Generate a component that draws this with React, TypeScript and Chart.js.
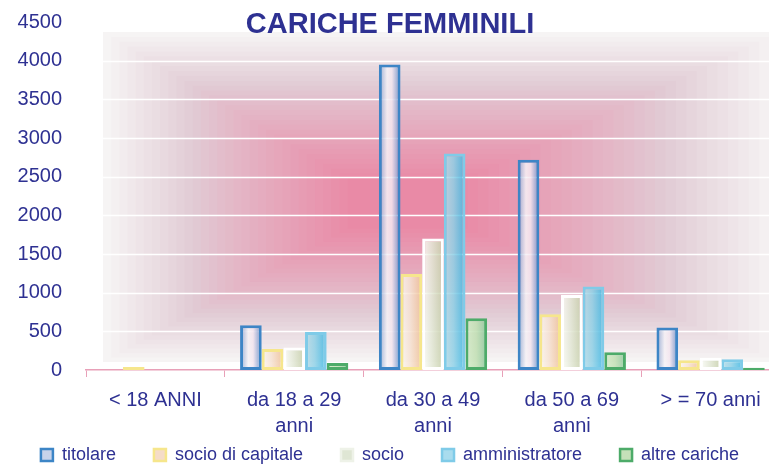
import React, { useEffect, useRef } from "react";
import { Chart, registerables } from "chart.js";

Chart.register(...registerables);

const categories: (string | string[])[] = [
  "< 18 ANNI",
  ["da 18 a 29", "anni"],
  ["da 30 a 49", "anni"],
  ["da 50 a 69", "anni"],
  "> = 70 anni",
];
const seriesNames = ["titolare", "socio di capitale", "socio", "amministratore", "altre cariche"];
const titolare = [0, 580, 3950, 2720, 550];
const socioDiCapitale = [40, 270, 1240, 720, 125];
const socio = [0, 290, 1700, 970, 160];
const amministratore = [0, 490, 2800, 1080, 140];
const altreCariche = [0, 90, 670, 230, 30];
const seriesValues = [titolare, socioDiCapitale, socio, amministratore, altreCariche];
const yMin = 0;
const yMax = 4500;
const yStep = 500;

const NAVY = "#2e3192";
const FONT = "'Liberation Sans', Arial, sans-serif";
const CAT_PCT = 0.78;
const LEGEND_SHIFT = 41;
const BAR_ALPHA = 0.86;

const fills = [
  {
    border: "#3d85c6",
    legend: "#c8d3ea",
    stops: [[0, "#8aa2cf"], [0.38, "#f6f2f6"], [0.6, "#f3e6ef"], [1, "#6088c6"]],
  },
  {
    border: "#f6e68c",
    legend: "#f5dcc8",
    stops: [[0, "#fbf6f1"], [0.45, "#f6e2d2"], [1, "#efbf95"]],
  },
  {
    border: "#ffffff",
    legend: "#dfe6d4",
    stops: [[0, "#fcfdf9"], [0.45, "#e3e8d6"], [1, "#c3cca5"]],
  },
  {
    border: "#7fcbe8",
    legend: "#a9dcee",
    stops: [[0, "#b8dbe6"], [0.45, "#8fd0e6"], [1, "#3bb5e1"]],
  },
  {
    border: "#4dab69",
    legend: "#c4e0b9",
    stops: [[0, "#d4ebc8"], [0.5, "#c0dfb2"], [1, "#88c59a"]],
  },
];

function rgba(hex: string, a: number) {
  const n = parseInt(hex.slice(1), 16);
  return `rgba(${(n >> 16) & 255},${(n >> 8) & 255},${n & 255},${a})`;
}

function barFill(ds: number) {
  return (c: any) => {
    const chart = c.chart;
    const x = chart.scales && chart.scales.x;
    const f = fills[ds];
    if (!x || !chart.chartArea || c.type !== "data" || !isFinite(x.width)) return f.legend;
    const catW = x.width / categories.length;
    const groupW = catW * CAT_PCT;
    const bw = groupW / seriesNames.length;
    const left = x.getPixelForValue(c.dataIndex) - groupW / 2 + ds * bw;
    const g = chart.ctx.createLinearGradient(left, 0, left + bw, 0);
    f.stops.forEach(([o, col]: any) => g.addColorStop(o, rgba(col, BAR_ALPHA)));
    return g;
  };
}

function mix(a: number[], b: number[], t: number) {
  return a.map((v, i) => Math.round(v + (b[i] - v) * t));
}

const wallPlugin = {
  id: "wall",
  afterLayout(chart: any) {
    const lg = chart.legend;
    if (lg) {
      lg.top -= LEGEND_SHIFT;
      lg.bottom -= LEGEND_SHIFT;
    }
  },
  beforeDraw(chart: any) {
    const { ctx, chartArea: a, scales } = chart;
    const y = scales.y;
    const left = a.left + 17;
    const right = a.right;
    const top = a.top + 10;
    const bottom = y.getPixelForValue(0) - 8;
    const cx = left + (right - left) * 0.45;
    const cy = top + (bottom - top) * 0.52;
    const outer = [246, 244, 244];
    const mid = [225, 203, 213];
    const inner = [233, 138, 166];
    const N = 30;
    ctx.save();
    for (let i = 0; i <= N; i++) {
      const t = i / N;
      const col = t < 0.35 ? mix(outer, mid, t / 0.35) : mix(mid, inner, Math.pow((t - 0.35) / 0.65, 0.9));
      const l = left + (cx - 60 - left) * t;
      const r = right + (cx + 60 - right) * t;
      const tp = top + (cy - 25 - top) * t;
      const bt = bottom + (cy + 25 - bottom) * t;
      ctx.fillStyle = `rgb(${col[0]},${col[1]},${col[2]})`;
      ctx.fillRect(l, tp, r - l, bt - tp);
    }
    ctx.strokeStyle = "#ffffff";
    ctx.lineWidth = 1.5;
    y.ticks.forEach((tk: any) => {
      if (tk.value <= yMin) return;
      const py = Math.round(y.getPixelForValue(tk.value)) + 0.5;
      if (py < top) return;
      ctx.beginPath();
      ctx.moveTo(left, py);
      ctx.lineTo(right, py);
      ctx.stroke();
    });
    ctx.restore();
  },
};

export default function App() {
  const ref = useRef<HTMLCanvasElement>(null);
  useEffect(() => {
    if (!ref.current) return;
    const chart = new Chart(ref.current, {
      type: "bar",
      data: {
        labels: categories as any,
        datasets: seriesNames.map((name, i) => ({
          label: name,
          data: seriesValues[i],
          backgroundColor: barFill(i),
          borderColor: fills[i].border,
          borderWidth: 3,
          borderSkipped: false,
          categoryPercentage: CAT_PCT,
          barPercentage: 1,
        })),
      },
      options: {
        responsive: false,
        animation: false,
        layout: { padding: { left: 0, right: 0, top: 0, bottom: -48 } },
        plugins: {
          tooltip: { enabled: false },
          title: {
            display: true,
            text: "CARICHE FEMMINILI",
            color: NAVY,
            font: { family: FONT, size: 29, weight: "bold" },
            padding: { top: 5, bottom: -20 },
          },
          legend: {
            position: "bottom",
            labels: {
              color: NAVY,
              font: { family: FONT, size: 18 },
              boxWidth: 12,
              boxHeight: 12,
              padding: 38,
              generateLabels: () =>
                seriesNames.map((n, i) => ({
                  text: n,
                  fillStyle: fills[i].legend,
                  strokeStyle: fills[i].border === "#ffffff" ? "#eef2e8" : fills[i].border,
                  lineWidth: 2.5,
                  hidden: false,
                  datasetIndex: i,
                  fontColor: NAVY,
                })) as any,
            },
          },
        },
        scales: {
          x: {
            offset: true,
            grid: {
              display: true,
              drawOnChartArea: false,
              drawTicks: true,
              tickLength: 7,
              color: "#e8a0b8",
              offset: true,
            },
            border: { display: true, color: "#e8a0b8", width: 1.5 },
            ticks: {
              color: NAVY,
              font: { family: FONT, size: 20, lineHeight: 1.3 },
              padding: 10,
              maxRotation: 0,
              autoSkip: false,
            },
          },
          y: {
            min: yMin,
            max: yMax,
            grid: { display: false },
            border: { display: false },
            afterFit: (scale: any) => {
              scale.width = 86;
            },
            ticks: {
              stepSize: yStep,
              autoSkip: false,
              color: NAVY,
              font: { family: FONT, size: 20, lineHeight: 0.6 },
              padding: 16,
              callback: (v: any) => String(v),
            },
          },
        },
      },
      plugins: [wallPlugin],
    });
    return () => chart.destroy();
  }, []);
  return (
    <div style={{ position: "fixed", left: 0, top: 0, width: 769, height: 467, overflow: "hidden", background: "#fff" }}>
      <canvas ref={ref} width={780} height={467} style={{ display: "block" }} />
    </div>
  );
}
